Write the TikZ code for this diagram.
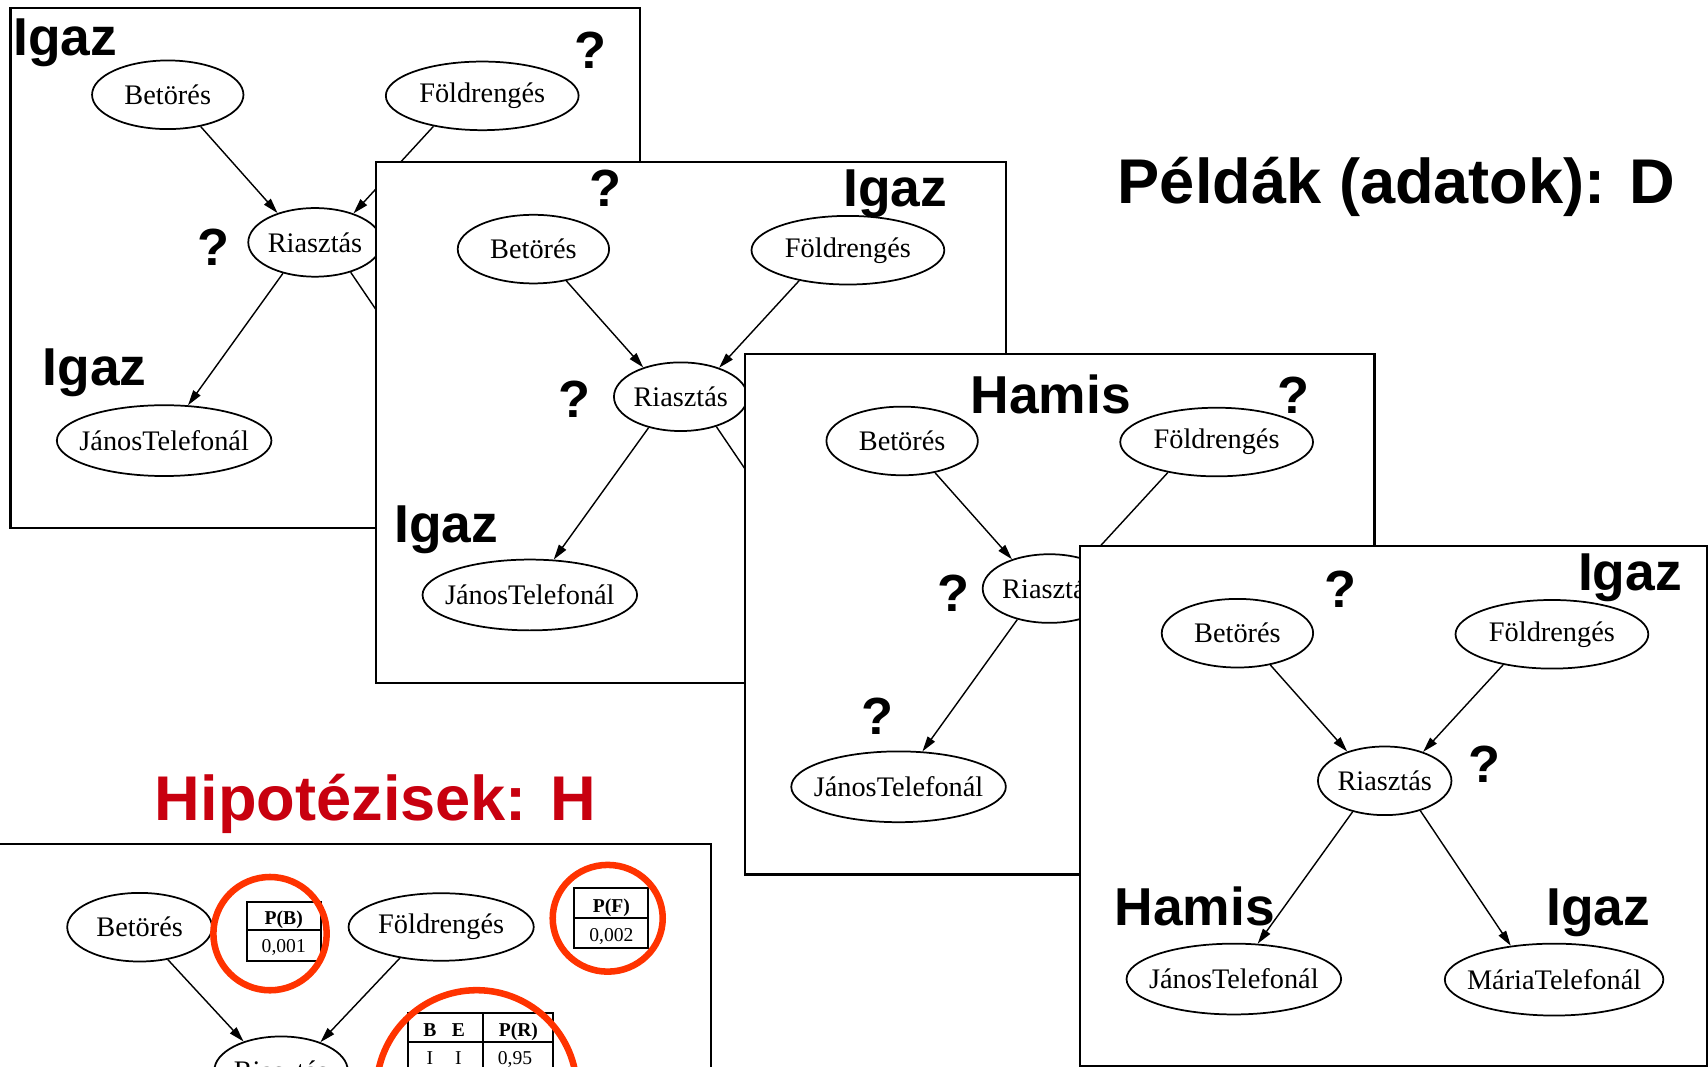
\documentclass[tikz,border=0pt]{standalone}
\usepackage{fontspec}
\setmainfont{Liberation Serif}
\newfontfamily\headfont{Liberation Sans}
\usetikzlibrary{arrows.meta,shapes.geometric}
\definecolor{titlered}{RGB}{200,0,15}
\definecolor{ringred}{RGB}{255,51,0}

\tikzset{
  panel/.style={draw=black, fill=white, line width=2pt},
  bn/.style={ellipse, draw, line width=1.6pt, inner sep=0pt, minimum height=63pt,
    font=\fontsize{26}{30}\selectfont},
  longbn/.style={bn, inner xsep=-9pt},
  link/.style={line width=1.3pt, -{Triangle[length=14pt,width=8pt]}},
  val/.style={font=\headfont\bfseries\fontsize{49}{54}\selectfont, inner sep=0pt, anchor=base west},
  qm/.style={font=\headfont\bfseries\fontsize{48}{54}\selectfont, inner sep=0pt, anchor=base},
  headline/.style={font=\headfont\bfseries\fontsize{58}{64}\selectfont, inner sep=0pt, anchor=base west},
  cpt/.style={font=\fontsize{18}{20}\selectfont, inner sep=0pt, anchor=base},
  tbl/.style={line width=1.8pt},
  redring/.style={draw=ringred, line width=6pt},
}

% one Bayesian-network card: prefix, left, top, width, height
\newcommand\bnpanel[5]{%
  \begin{scope}[shift={(#2,#3)}]
    \path[panel] (0,0) rectangle (#4,#5);
    \node[bn, minimum width=139pt] (#1B) at (144.3,80) {Betörés};
    \node[bn, minimum width=177pt] (#1F) at (433,81) {Földrengés};
    \node[bn, minimum width=114pt] (#1R) at (279.5,215.5) {Riasztás};
    \node[longbn, minimum width=197pt, minimum height=65pt] (#1J) at (141,397.5) {JánosTelefonál};
    \draw[link] (#1B.-44) -- (#1R.142);
    \draw[link] (#1F.-148) -- (#1R.37);
    \draw[link] (#1R.-136) -- (#1J.56);
  \end{scope}}

\begin{document}
\begin{tikzpicture}[x=1pt,y=-1pt]
\useasboundingbox (0,0) rectangle (1568,979);
\clip (0,0) rectangle (1568,979);
\fill[white] (0,0) rectangle (1568,979);

% first card
\bnpanel{pa}{9.7}{7}{578}{478}
\coordinate (paM) at (407.3,375.8);
\draw[link] (paR.-40) -- (paM);
\node[val] (pa-l1) at (12,50.6) {Igaz};
\node[qm] (pa-l2) at (541.7,63) {?};
\node[qm] (pa-l3) at (196,243.4) {?};
\node[val] (pa-l4) at (39,354) {Igaz};

% second card
\bnpanel{pb}{345.4}{148.7}{578}{478}
\coordinate (pbM) at (743,517.5);
\draw[link] (pbR.-40) -- (pbM);
\node[qm] (pb-l1) at (555.6,189.9) {?};
\node[val] (pb-l2) at (774,189.9) {Igaz};
\node[qm] (pb-l3) at (527.4,383) {?};
\node[val] (pb-l4) at (362,498) {Igaz};

% third card
\bnpanel{pc}{683.9}{324.8}{578}{478}
\coordinate (pcM) at (1081.5,693.6);
\draw[link] (pcR.-40) -- (pcM);
\node[val] (pc-l1) at (891,380) {Hamis};
\node[qm] (pc-l2) at (1187,380) {?};
\node[qm] (pc-l3) at (875,561.8) {?};
\node[qm] (pc-l4) at (805.4,674.2) {?};

% fourth card
\bnpanel{pd}{991.7}{501.3}{575.8}{477}
\node[longbn, minimum width=193pt, minimum height=66pt] (pdM) at (1426.7,899.3) {MáriaTelefonál};
\draw[link] (pdR.-40) -- (pdM.142);
\node[qm] (pd-l1) at (1231,557.3) {?};
\node[val] (pd-l2) at (1448.5,541.9) {Igaz};
\node[qm] (pd-l3) at (1362.7,718.1) {?};
\node[val] (pd-l4) at (1023,849.9) {Hamis};
\node[val] (pd-l5) at (1419.5,849.9) {Igaz};

\node[headline] (dataTitle) at (1026,187) {Példák (adatok): D};

% hypothesis card with conditional probability tables
\path[panel] (-5,775) rectangle (653,1100);
\node[bn, minimum width=133pt] (hB) at (128.2,851.2) {Betörés};
\node[bn, minimum width=170pt, minimum height=62pt] (hF) at (405,851) {Földrengés};
\node[bn, minimum width=108pt] (hR) at (258,983) {Riasztás};
\draw[link] (hB.-49) -- (hR.142);
\draw[link] (hF.-143) -- (hR.36);

\draw[tbl] (226.5,827.8) rectangle (294.4,882) (226.5,853.8) -- (294.4,853.8);
\node[cpt] (pbHead) at (260.5,849) {\bfseries P(B)};
\node[cpt] (pbVal) at (260.5,874) {0,001};

\draw[tbl] (527.3,815.5) rectangle (595.2,870.6) (527.3,843) -- (595.2,843);
\node[cpt] (pfHead) at (561.3,837.5) {\bfseries P(F)};
\node[cpt] (pfVal) at (561.3,864.5) {0,002};

\draw[tbl] (374.9,1100) |- (508,929.7) -- (508,1100)
  (374.9,956.3) -- (508,956.3) (443.7,929.7) -- (443.7,1100);
\node[cpt] (prB) at (394.7,951.5) {\bfseries B};
\node[cpt] (prE) at (420.8,951.5) {\bfseries E};
\node[cpt] (prHead) at (475.9,951.5) {\bfseries P(R)};
\node[cpt] (prB1) at (394.7,977.5) {I};
\node[cpt] (prE1) at (420.8,977.5) {I};
\node[cpt] (prV1) at (472.8,977.5) {0,95};

\draw[redring] (247.9,857.1) circle[radius=52];
\draw[redring] (557.9,843) ellipse[x radius=50.5, y radius=49];
\draw[redring] (437.6,1001) circle[radius=92];

\node[headline, text=titlered] (hypTitle) at (142,752.8) {Hipotézisek: H};
\end{tikzpicture}
\end{document}
